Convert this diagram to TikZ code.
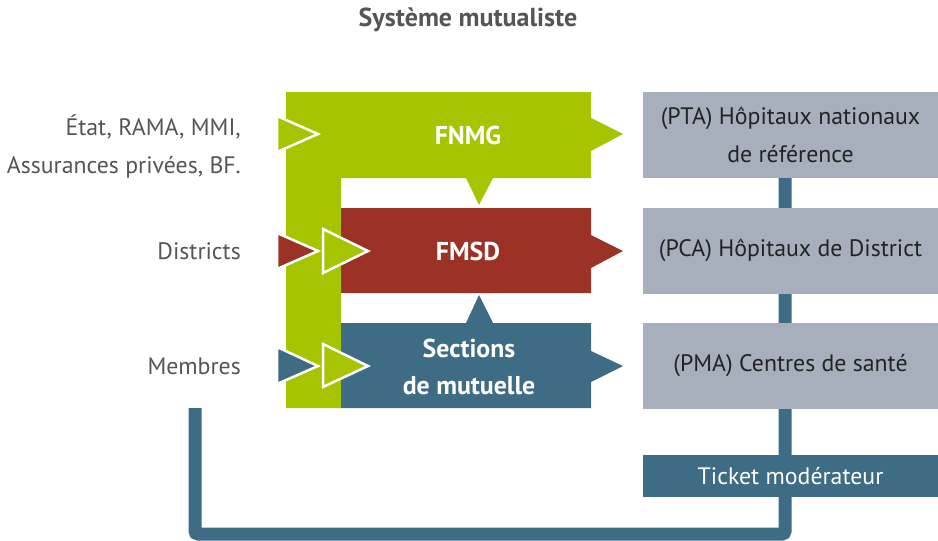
\documentclass[tikz,border=0pt]{standalone}
\usepackage{fontspec}
\setmainfont{PT Sans}
\definecolor{cgreen}{RGB}{166,196,0}
\definecolor{cred}{RGB}{155,50,37}
\definecolor{cblue}{RGB}{61,108,132}
\definecolor{cgray}{RGB}{166,175,187}
\definecolor{ctext}{RGB}{35,35,35}
\definecolor{clabel}{RGB}{85,85,85}
\tikzset{
  graybox/.style={fill=cgray,minimum width=295pt,minimum height=86pt,inner sep=0pt,text=ctext,font=\fontsize{23.8}{38}\selectfont,align=center},
  ticketbox/.style={fill=cblue,minimum width=295pt,minimum height=42pt,inner sep=0pt,text=white,font=\fontsize{23.8}{28}\selectfont},
  boldlbl/.style={text=white,font=\bfseries\fontsize{25.8}{37}\selectfont,align=center,inner sep=0pt},
  sidelbl/.style={text=clabel,font=\fontsize{23.8}{38}\selectfont,align=right,anchor=east,inner sep=0pt},
  tri/.style={draw=white,line width=2.5pt,line join=miter},
  loopline/.style={draw=cblue,line width=13pt,rounded corners=3pt},
}
\begin{document}
\begin{tikzpicture}[x=1pt,y=-1pt]
\useasboundingbox (0,0) rectangle (938,541);
% title
\node[text=clabel,font=\bfseries\fontsize{26}{30}\selectfont] (title) at (468,20) {Système mutualiste};
% loop connector (behind)
\coordinate (lstart) at (195,408);
\coordinate (lbl) at (195,534);
\coordinate (lbr) at (785,534);
\coordinate (lend) at (785,178);
\draw[loopline] (lstart) -- (lbl) -- (lbr) -- (lend);
% green L shape with arrows
\fill[cgreen] (286,92) -- (591,92) -- (591,118) -- (623,134) -- (591,151) -- (591,178)
  -- (493,178) -- (479,205) -- (466,178) -- (341,178) -- (341,408) -- (286,408) -- cycle;
% red
\fill[cred] (341,208) -- (591,208) -- (591,235) -- (623,251) -- (591,268) -- (591,293) -- (341,293) -- cycle;
% blue
\fill[cblue] (341,323) -- (466,323) -- (479,295) -- (493,323) -- (591,323) -- (591,351)
  -- (623,366) -- (591,382) -- (591,408) -- (341,408) -- cycle;
% input triangles
\filldraw[tri,fill=cgreen] (277,116) -- (318,134) -- (277,152) -- cycle;
\filldraw[tri,fill=cred] (277,233) -- (318,251) -- (277,269) -- cycle;
\filldraw[tri,fill=cgreen] (323,229) -- (368,251) -- (323,273) -- cycle;
\filldraw[tri,fill=cblue] (277,347) -- (318,366) -- (277,384) -- cycle;
\filldraw[tri,fill=cgreen] (323,344) -- (368,366) -- (323,387) -- cycle;
% labels in bars
\node[boldlbl] (fnmg) at (468,135) {FNMG};
\node[boldlbl] (fmsd) at (468,251) {FMSD};
\node[boldlbl] (sect) at (469,367) {Sections\\de mutuelle};
% side labels
\node[sidelbl] (etat) at (241,147) {État, RAMA, MMI,\\Assurances privées, BF.};
\node[sidelbl] (districts) at (241,251) {Districts};
\node[sidelbl] (membres) at (241,366) {Membres};
% gray boxes
\node[graybox] (pta) at (790.5,135) {(PTA) Hôpitaux nationaux\\de référence};
\node[graybox] (pca) at (790.5,250.5) {(PCA) Hôpitaux de District};
\node[graybox] (pma) at (790.5,365.5) {(PMA) Centres de santé};
\node[ticketbox] (ticket) at (790.5,476) {Ticket modérateur};
\end{tikzpicture}
\end{document}
